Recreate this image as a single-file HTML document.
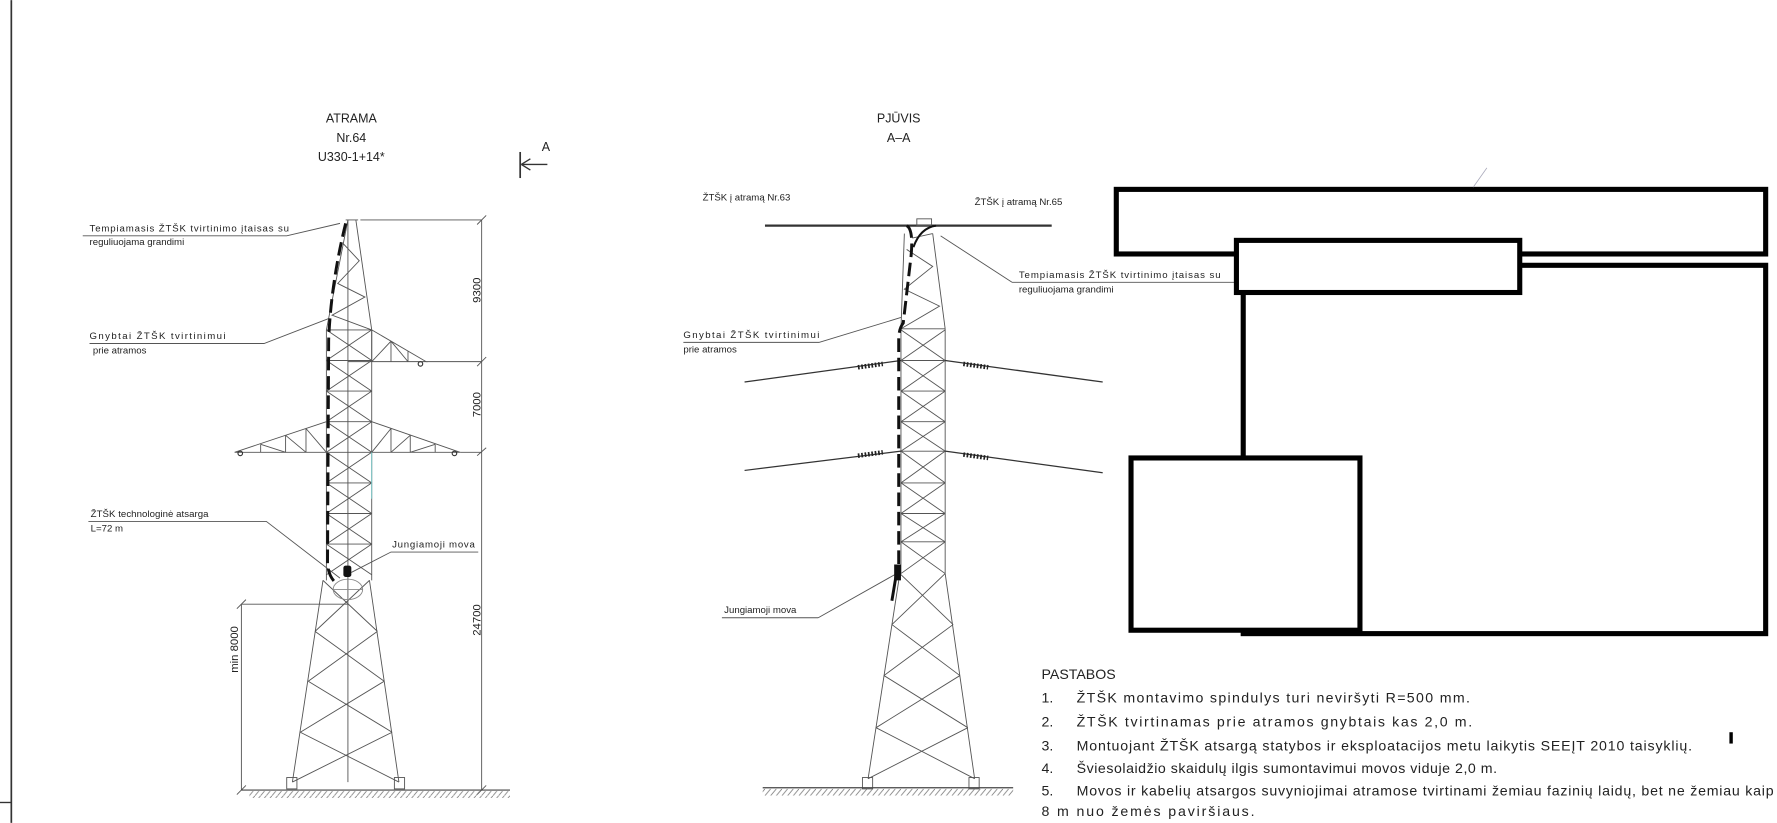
<!DOCTYPE html>
<html><head><meta charset="utf-8"><style>
html,body{margin:0;padding:0;background:#fff;}
svg{display:block;}
text{font-family:"Liberation Sans",sans-serif;fill:#222;}
</style></head><body>
<svg width="1777" height="823" viewBox="0 0 1568 726" xmlns="http://www.w3.org/2000/svg">
<defs>
<pattern id="h" width="5" height="6" patternUnits="userSpaceOnUse"><path d="M0,6 L5,0" stroke="#777" stroke-width="0.7"/></pattern>
</defs>
<rect width="1568" height="726" fill="#fff"/>
<line x1="10" y1="0" x2="10" y2="726" stroke="#333" stroke-width="1.5"/>
<line x1="0" y1="708" x2="10" y2="708" stroke="#333" stroke-width="1.2"/>

<g font-size="11" text-anchor="middle">
<text x="310" y="108">ATRAMA</text>
<text x="310" y="125">Nr.64</text>
<text x="310" y="142">U330-1+14*</text>
<text x="793" y="108">PJŪVIS</text>
<text x="793" y="125">A–A</text>
</g>
<line x1="459" y1="134" x2="459" y2="157" stroke="#333" stroke-width="1.5"/>
<line x1="460" y1="145" x2="483" y2="145" stroke="#333" stroke-width="1.2"/>
<path d="M460,145 L468,140 M460,145 L468,150" stroke="#333" stroke-width="1.2" fill="none"/>
<text x="478" y="133" font-size="11">A</text>

<g stroke="#555" stroke-width="0.8" fill="none">
<path d="M307,194 L288,291 M314,194 L328,291 M305,194 L316,194"/>
<path d="M307,194 V690"/>
<path d="M303,215 L317,230 L298,250 L322,262 L293,278 L328,291"/>
<path d="M328,291 L376,319 L307,319 M328,319 L328,291 M345,319 L345,301 M360,319 L360,310 M328,319 L345,301 L360,319"/>
<path d="M288,291 H328"/>
<path d="M288,291 V512 M328,291 V512"/>
<path d="M288,291 L328,318 M328,291 L288,318 M288,318 L328,345 M328,318 L288,345 M288,345 L328,372 M328,345 L288,372 M288,372 L328,399 M328,372 L288,399 M288,399 L328,426 M328,399 L288,426 M288,426 L328,453 M328,426 L288,453 M288,453 L328,480 M328,453 L288,480 M288,480 L328,507 M328,480 L288,507"/>
<path d="M288,318 H328 M288,345 H328 M288,372 H328 M288,426 H328 M288,453 H328 M288,480 H328"/>
<path d="M207,399 H406 M207,399 L288,372 M406,399 L328,372"/>
<path d="M230,399 L230,392 M252,399 L252,384 M270,399 L270,378 M252,384 L270,399 M230,392 L252,399 M270,378 L288,399"/>
<path d="M384,399 L384,392 M362,399 L362,384 M345,399 L345,378 M362,384 L345,399 M384,392 L362,399 M345,378 L328,399"/>
<path d="M285,512 L258,690 M326,512 L352,690"/>
<path d="M285,512 L333,557 M326,512 L278,557 M278,557 L339,601 M333,557 L272,601 M272,601 L346,646 M339,601 L265,646 M265,646 L352,690 M346,646 L258,690"/>
<rect x="253" y="686" width="9" height="10"/><rect x="348" y="686" width="9" height="10"/>
<path d="M318,194 H425 M376,319 H425 M406,399 H425 M425,194 V697 M213,533 V697 M213,533 H307"/>
<path d="M421,198 L429,190 M421,323 L429,315 M421,402 L429,395 M421,701 L429,693 M209,537 L217,529 M209,701 L217,693"/>
<path d="M73,208 H253 L300,197 M79,303 H233 L290,281 M78,460 H235 L300,510 M422,487 H345 L310,505"/>
</g>
<line x1="213" y1="697" x2="450" y2="697" stroke="#444" stroke-width="1"/>
<rect x="220" y="698" width="230" height="6" fill="url(#h)"/>
<circle cx="212" cy="400" r="2" fill="none" stroke="#333"/><circle cx="401" cy="400" r="2" fill="none" stroke="#333"/><circle cx="371" cy="321" r="2" fill="none" stroke="#333"/>
<line x1="328" y1="399" x2="328" y2="440" stroke="#7cc" stroke-width="0.8"/>
<path d="M305,197 Q292,250 290,300 L289,495 Q289,508 297,515" stroke="#111" stroke-width="2.6" fill="none" stroke-dasharray="12,5"/>
<rect x="303" y="499" width="7" height="10" rx="2" fill="#111"/>
<ellipse cx="307" cy="520" rx="13" ry="9" fill="none" stroke="#888" stroke-width="0.8"/>
<line x1="294" y1="520" x2="320" y2="520" stroke="#888" stroke-width="0.7"/>
<g font-size="8.5">
<text x="79" y="204" textLength="176">Tempiamasis ŽTŠK tvirtinimo įtaisas su</text>
<text x="79" y="216">reguliuojama grandimi</text>
<text x="79" y="299" textLength="120">Gnybtai ŽTŠK tvirtinimui</text>
<text x="82" y="312">prie atramos</text>
<text x="80" y="456" textLength="104">ŽTŠK technologinė atsarga</text>
<text x="80" y="469">L=72 m</text>
<text x="346" y="483" textLength="73">Jungiamoji mova</text>
</g>
<g font-size="10" fill="#222">
<text transform="translate(424,256) rotate(-90)" text-anchor="middle">9300</text>
<text transform="translate(424,357) rotate(-90)" text-anchor="middle">7000</text>
<text transform="translate(424,547) rotate(-90)" text-anchor="middle">24700</text>
<text transform="translate(210,573) rotate(-90)" text-anchor="middle">min 8000</text>
</g>

<g font-size="8.5">
<text x="620" y="177">ŽTŠK į atramą Nr.63</text>
<text x="860" y="181">ŽTŠK į atramą Nr.65</text>
<text x="899" y="245" textLength="178">Tempiamasis ŽTŠK tvirtinimo įtaisas su</text>
<text x="899" y="258">reguliuojama grandimi</text>
<text x="603" y="298" textLength="120">Gnybtai ŽTŠK tvirtinimui</text>
<text x="603" y="311">prie atramos</text>
<text x="639" y="541">Jungiamoji mova</text>
</g>
<line x1="675" y1="199" x2="928" y2="199" stroke="#333" stroke-width="2"/>
<g stroke="#555" stroke-width="0.8" fill="none">
<rect x="809" y="193" width="13" height="6"/>
<path d="M798,206 L795,290 M823,206 L834,290 M795,290 H834"/>
<path d="M800,220 L823,235 L798,255 L829,270 L795,290 M805,210 L823,206"/>
<path d="M795,290 V506 M834,290 V506"/>
<path d="M795,318 H834 M795,398 H834 M795,478 H834 M795,345 H834 M795,372 H834 M795,426 H834 M795,453 H834"/>
<path d="M795,291 L834,318 M834,291 L795,318 M795,318 L834,345 M834,318 L795,345 M795,345 L834,372 M834,345 L795,372 M795,372 L834,398 M834,372 L795,398 M795,398 L834,426 M834,398 L795,426 M795,426 L834,453 M834,426 L795,453 M795,453 L834,478 M834,453 L795,478 M795,478 L834,506 M834,478 L795,506"/>
<path d="M794,506 L766,687 M834,506 L860,687"/>
<path d="M794,506 L841,551 M834,506 L787,551 M787,551 L847,596 M841,551 L780,596 M780,596 L854,642 M847,596 L773,642 M773,642 L860,687 M854,642 L766,687"/>
<rect x="761" y="686" width="9" height="10"/><rect x="855" y="686" width="9" height="10"/>
<path d="M893,249 H1090 M893,249 L830,208 M723,302 H603 M723,302 L795,280 M722,545 H637 M722,545 L793,505"/>
</g>
<g stroke="#333" stroke-width="1.1" fill="none">
<path d="M657,337 L795,318 M834,318 L973,337 M657,415 L795,398 M834,398 L973,417"/>
</g>
<g stroke="#222" stroke-width="4" stroke-dasharray="1.5,1.5" fill="none">
<path d="M757,324 L779,321 M850,321 L872,324 M757,402 L779,399 M850,401 L872,404"/>
</g>
<line x1="673" y1="695" x2="894" y2="695" stroke="#444" stroke-width="1"/>
<rect x="673" y="696" width="221" height="6" fill="url(#h)"/>
<path d="M800,199 Q806,202 804,225 L797,285 Q793,290 793,300 L793,500" stroke="#111" stroke-width="2.6" fill="none" stroke-dasharray="12,5"/>
<path d="M826,199 Q812,201 806,218" stroke="#111" stroke-width="1.8" fill="none"/>
<path d="M792,500 L787,530" stroke="#111" stroke-width="2.6"/>
<rect x="789" y="498" width="6" height="14" fill="#111"/>

<g stroke="#000" stroke-width="4.5" fill="none">
<rect x="985" y="167" width="573" height="57"/>
<rect x="1097" y="234" width="461" height="325"/>
</g>
<rect x="1091" y="212" width="250" height="46" fill="#fff" stroke="#000" stroke-width="4.5"/>
<rect x="998" y="404" width="202" height="152" fill="#fff" stroke="#000" stroke-width="4.5"/>
<line x1="1300" y1="165" x2="1312" y2="148" stroke="#aab" stroke-width="0.7"/>

<g font-size="12.5">
<text x="919" y="599">PASTABOS</text>
<text x="919" y="620">1.</text><text x="950" y="620" textLength="347">ŽTŠK montavimo spindulys turi neviršyti R=500 mm.</text>
<text x="919" y="641">2.</text><text x="950" y="641" textLength="349">ŽTŠK tvirtinamas prie atramos gnybtais kas 2,0 m.</text>
<text x="919" y="662">3.</text><text x="950" y="662" textLength="543">Montuojant ŽTŠK atsargą statybos ir eksploatacijos metu laikytis SEEĮT 2010 taisyklių.</text>
<text x="919" y="682">4.</text><text x="950" y="682" textLength="371">Šviesolaidžio skaidulų ilgis sumontavimui movos viduje 2,0 m.</text>
<text x="919" y="702">5.</text><text x="950" y="702" textLength="615">Movos ir kabelių atsargos suvyniojimai atramose tvirtinami žemiau fazinių laidų, bet ne žemiau kaip</text>
<text x="919" y="720" textLength="188">8 m nuo žemės paviršiaus.</text>
</g>
<rect x="1526" y="646" width="3" height="10" fill="#000"/>
</svg>
</body></html>
